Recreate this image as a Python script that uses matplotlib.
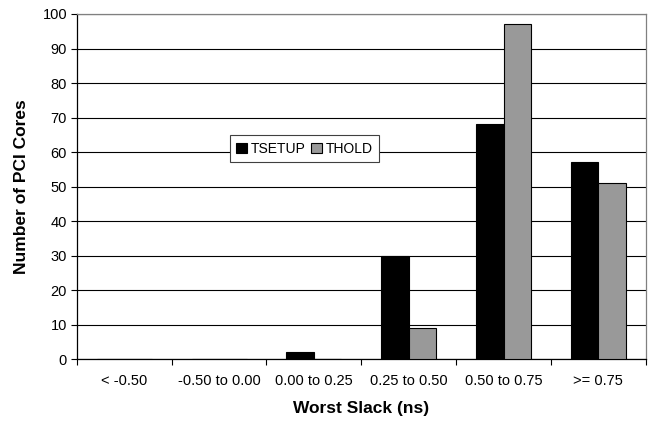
import numpy as np
import matplotlib
matplotlib.use("Agg")
import matplotlib.pyplot as plt
from matplotlib.ticker import FixedLocator

plt.rcParams['font.family'] = ['Liberation Sans', 'DejaVu Sans']

categories = ['< -0.50', '-0.50 to 0.00', '0.00 to 0.25', '0.25 to 0.50', '0.50 to 0.75', '>= 0.75']
tsetup = [0, 0, 2, 30, 68, 57]
thold = [0, 0, 0, 9, 97, 51]

fig = plt.figure(figsize=(6.51, 4.24), dpi=100)
ax = fig.add_axes([0.118, 0.153, 0.874, 0.814])

x = np.arange(len(categories))
w = 0.29
ax.bar(x - w / 2, tsetup, w, color='black', edgecolor='black', linewidth=0.8, label='TSETUP', zorder=3)
ax.bar(x + w / 2, thold, w, color='#999999', edgecolor='black', linewidth=0.8, label='THOLD', zorder=3)

ax.set_xlim(-0.5, len(categories) - 0.5)
ax.set_ylim(0, 100)
ax.set_yticks(range(0, 101, 10))
ax.yaxis.grid(True, color='black', linewidth=0.8, zorder=0)

# category labels centred, tick marks on the boundaries
ax.set_xticks(x)
ax.set_xticklabels(categories)
ax.tick_params(axis='x', which='major', length=0, pad=11, labelsize=10.5)
ax.xaxis.set_minor_locator(FixedLocator(np.arange(-0.5, len(categories), 1.0)))
ax.tick_params(axis='x', which='minor', length=4, width=0.8, direction='out')
ax.tick_params(axis='y', length=4, width=0.8, direction='out', labelsize=10.5, pad=3)

for side in ['top', 'right']:
    ax.spines[side].set_color('#808080')
for side in ['left', 'bottom']:
    ax.spines[side].set_color('black')
for s in ax.spines.values():
    s.set_linewidth(0.9)

ax.set_xlabel('Worst Slack (ns)', fontsize=12.5, fontweight='bold', labelpad=9)
ax.set_ylabel('Number of PCI Cores', fontsize=12.5, fontweight='bold', labelpad=10)

leg = ax.legend(loc='center', bbox_to_anchor=(0.40, 0.61), ncol=2, fontsize=10,
                frameon=True, fancybox=False, handlelength=0.75, handleheight=0.75,
                handletextpad=0.3, columnspacing=0.4, borderpad=0.45, framealpha=1)
leg.get_frame().set_edgecolor('#404040')
leg.get_frame().set_linewidth(0.8)

fig.savefig('out.png', dpi=100)
